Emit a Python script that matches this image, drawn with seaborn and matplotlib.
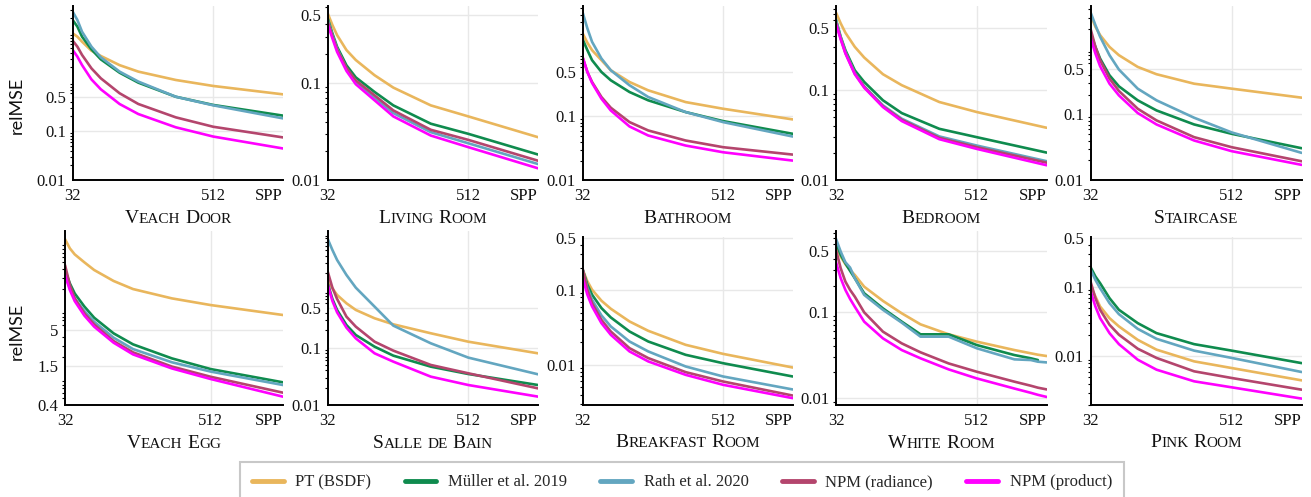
import numpy as np
import pandas as pd
import matplotlib
matplotlib.use("Agg")
import matplotlib.pyplot as plt
import seaborn as sns
from matplotlib.lines import Line2D
from matplotlib.offsetbox import TextArea, HPacker, AnchoredOffsetbox
from matplotlib.ticker import FixedLocator, FixedFormatter, LogLocator, NullFormatter

# ---------------- data ----------------
METHODS = ["PT (BSDF)", "Müller et al. 2019", "Rath et al. 2020", "NPM (radiance)", "NPM (product)"]
COLORS = ["#E9B65C", "#0F8B4E", "#63A6C0", "#B4456D", "#FF00FF"]

SPP = [32, 48, 64, 96, 128, 192, 256, 384, 512, 750]
WHITE_SPP = [32, 48, 64, 80, 96, 128, 192, 256, 320, 416, 512, 640, 696, 720, 750]

veach_door = {
    "PT (BSDF)":          [9.85, 8.41, 6.65, 4.36, 3.40, 2.21, 1.63, 1.10, 0.83, 0.56],
    "Müller et al. 2019": [18.4, 13.5, 8.41, 4.64, 2.90, 1.55, 0.97, 0.50, 0.34, 0.206],
    "Rath et al. 2020":   [27.2, 18.4, 10.6, 5.26, 3.19, 1.63, 1.02, 0.50, 0.334, 0.181],
    "NPM (radiance)":     [6.98, 5.26, 3.56, 1.90, 1.19, 0.59, 0.356, 0.190, 0.122, 0.074],
    "NPM (product)":      [4.50, 3.29, 2.21, 1.13, 0.71, 0.356, 0.222, 0.119, 0.077, 0.044],
}
living_room = {
    "PT (BSDF)":          [0.521, 0.395, 0.311, 0.218, 0.172, 0.120, 0.0895, 0.0587, 0.0452, 0.0276],
    "Müller et al. 2019": [0.463, 0.324, 0.236, 0.152, 0.114, 0.0807, 0.0587, 0.0380, 0.0299, 0.0183],
    "Rath et al. 2020":   [0.445, 0.311, 0.226, 0.141, 0.102, 0.0705, 0.0489, 0.0311, 0.0239, 0.0146],
    "NPM (radiance)":     [0.428, 0.304, 0.221, 0.143, 0.106, 0.0745, 0.0521, 0.0329, 0.0259, 0.0158],
    "NPM (product)":      [0.404, 0.288, 0.209, 0.133, 0.0969, 0.0662, 0.0452, 0.0287, 0.0218, 0.0132],
}
bathroom = {
    "PT (BSDF)":          [2.02, 1.44, 1.10, 0.766, 0.532, 0.348, 0.257, 0.168, 0.132, 0.0897],
    "Müller et al. 2019": [1.62, 1.10, 0.766, 0.50, 0.370, 0.242, 0.179, 0.117, 0.0844, 0.0533],
    "Rath et al. 2020":   [4.28, 2.42, 1.49, 0.814, 0.532, 0.309, 0.202, 0.117, 0.0814, 0.0483],
    "NPM (radiance)":     [0.844, 0.50, 0.348, 0.202, 0.137, 0.0814, 0.0601, 0.0418, 0.0328, 0.0251],
    "NPM (product)":      [0.844, 0.50, 0.336, 0.190, 0.124, 0.0695, 0.0501, 0.0348, 0.0273, 0.0202],
}
bedroom = {
    "PT (BSDF)":          [0.734, 0.557, 0.438, 0.305, 0.232, 0.151, 0.114, 0.074, 0.0572, 0.0382],
    "Müller et al. 2019": [0.608, 0.395, 0.280, 0.167, 0.124, 0.0773, 0.0557, 0.0372, 0.0300, 0.0202],
    "Rath et al. 2020":   [0.608, 0.389, 0.269, 0.156, 0.111, 0.068, 0.0482, 0.0306, 0.0242, 0.0162],
    "NPM (radiance)":     [0.567, 0.379, 0.262, 0.154, 0.109, 0.0662, 0.0469, 0.0295, 0.0232, 0.0156],
    "NPM (product)":      [0.548, 0.369, 0.257, 0.151, 0.107, 0.065, 0.0454, 0.0285, 0.0222, 0.0146],
}
staircase = {
    "PT (BSDF)":          [3.27, 2.17, 1.62, 1.07, 0.80, 0.53, 0.41, 0.294, 0.247, 0.180],
    "Müller et al. 2019": [1.72, 1.07, 0.711, 0.395, 0.268, 0.164, 0.115, 0.0703, 0.0506, 0.0305],
    "Rath et al. 2020":   [3.56, 2.30, 1.53, 0.80, 0.483, 0.247, 0.164, 0.089, 0.0531, 0.0259],
    "NPM (radiance)":     [1.98, 1.07, 0.671, 0.352, 0.228, 0.122, 0.081, 0.045, 0.0316, 0.0193],
    "NPM (product)":      [1.44, 0.849, 0.543, 0.294, 0.195, 0.105, 0.0703, 0.040, 0.0275, 0.0170],
}
veach_egg = {
    "PT (BSDF)":          [110, 80.5, 65.7, 50.1, 38.7, 26.7, 20.3, 14.8, 11.8, 8.43],
    "Müller et al. 2019": [38.7, 24.6, 17.5, 11.2, 7.69, 4.53, 3.12, 1.94, 1.35, 0.862],
    "Rath et al. 2020":   [34.5, 20.8, 14.8, 9.64, 6.72, 3.91, 2.66, 1.70, 1.24, 0.787],
    "NPM (radiance)":     [45.8, 23.3, 14.8, 8.92, 6.14, 3.49, 2.38, 1.47, 1.04, 0.607],
    "NPM (product)":      [32.7, 19.6, 13.5, 8.24, 5.68, 3.30, 2.22, 1.38, 0.964, 0.53],
}
salle_de_bain = {
    "PT (BSDF)":          [1.51, 1.08, 0.83, 0.593, 0.454, 0.325, 0.255, 0.178, 0.127, 0.0796],
    "Müller et al. 2019": [1.32, 0.706, 0.454, 0.248, 0.166, 0.104, 0.0725, 0.0466, 0.0347, 0.0223],
    "Rath et al. 2020":   [7.85, 5.05, 3.38, 1.85, 1.11, 0.519, 0.242, 0.119, 0.067, 0.0343],
    "NPM (radiance)":     [2.12, 1.11, 0.706, 0.347, 0.232, 0.127, 0.0887, 0.0499, 0.0357, 0.0195],
    "NPM (product)":      [1.27, 0.652, 0.413, 0.223, 0.145, 0.0796, 0.057, 0.0312, 0.0223, 0.014],
}
breakfast_room = {
    "PT (BSDF)":          [0.187, 0.131, 0.101, 0.072, 0.0562, 0.0380, 0.0285, 0.0185, 0.0140, 0.0092],
    "Müller et al. 2019": [0.187, 0.118, 0.0866, 0.0574, 0.043, 0.0279, 0.0205, 0.0136, 0.0105, 0.00698],
    "Rath et al. 2020":   [0.187, 0.106, 0.0743, 0.0458, 0.0326, 0.0205, 0.0151, 0.0095, 0.00698, 0.00468],
    "NPM (radiance)":     [0.191, 0.101, 0.067, 0.040, 0.0279, 0.0167, 0.0123, 0.00798, 0.00598, 0.00388],
    "NPM (product)":      [0.145, 0.0866, 0.0604, 0.0361, 0.0252, 0.0151, 0.0111, 0.00734, 0.0054, 0.00358],
}
white_room = {
    "PT (BSDF)":          [0.578, 0.431, 0.352, 0.303, 0.265, 0.194, 0.133, 0.0957, 0.0714, 0.0548, 0.0451, 0.0361, 0.0331, 0.0319, 0.0308],
    "Müller et al. 2019": [0.614, 0.451, 0.361, 0.295, 0.243, 0.163, 0.109, 0.0767, 0.0548, 0.0548, 0.0412, 0.0316, 0.0290, 0.0277, np.nan],
    "Rath et al. 2020":   [0.689, 0.492, 0.371, 0.322, 0.243, 0.156, 0.105, 0.0747, 0.0515, 0.0515, 0.0378, 0.0282, 0.0277, 0.0265, 0.0260],
    "NPM (radiance)":     [0.515, 0.316, 0.222, 0.178, 0.149, 0.0982, 0.0588, 0.0431, 0.0340, 0.0253, 0.0203, 0.0156, 0.0140, 0.0133, 0.0127],
    "NPM (product)":      [0.371, 0.243, 0.178, 0.140, 0.114, 0.0767, 0.0492, 0.0361, 0.0290, 0.0216, 0.0170, 0.0130, 0.0116, 0.0110, 0.0104],
}
pink_room = {
    "PT (BSDF)":          [0.101, 0.0727, 0.0522, 0.0355, 0.0270, 0.0173, 0.0125, 0.00848, 0.0068, 0.00452],
    "Müller et al. 2019": [0.190, 0.141, 0.113, 0.0688, 0.0468, 0.0301, 0.0216, 0.0150, 0.0121, 0.0080],
    "Rath et al. 2020":   [0.175, 0.126, 0.0957, 0.0583, 0.0405, 0.0249, 0.0179, 0.0121, 0.0095, 0.00596],
    "NPM (radiance)":     [0.117, 0.0688, 0.0468, 0.0285, 0.0205, 0.0129, 0.0095, 0.0061, 0.00489, 0.00332],
    "NPM (product)":      [0.0857, 0.0522, 0.0355, 0.0216, 0.0150, 0.00896, 0.00644, 0.00438, 0.00359, 0.00247],
}

SCENES = ["Veach Door", "Living Room", "Bathroom", "Bedroom", "Staircase",
          "Veach Egg", "Salle de Bain", "Breakfast Room", "White Room", "Pink Room"]
SCENE_DATA = [veach_door, living_room, bathroom, bedroom, staircase,
              veach_egg, salle_de_bain, breakfast_room, white_room, pink_room]
SCENE_SPP = [SPP] * 8 + [WHITE_SPP, SPP]

YTICKS_STD = [0.01, 0.1, 0.5]
YLABELS_STD = ["0.01", "0.1", "0.5"]
YTICKS_EGG = [0.4, 1.5, 5]
YLABELS_EGG = ["0.4", "1.5", "5"]
YLIMS = [(0.01, 35.6), (0.01, 0.62), (0.01, 5.45), (0.01, 0.87), (0.01, 4.5),
         (0.4, 145), (0.01, 10.8), (0.0029, 0.52), (0.0084, 0.85), (0.002, 0.53)]
XTICKS = [32, 512, 750]
XLABELS = ["32", "512", "SPP"]

# ---------------- styling ----------------
sns.set_theme(style="white")
plt.rcParams["font.family"] = ["Liberation Serif", "DejaVu Serif"]
plt.rcParams["axes.unicode_minus"] = False

W, H = 1311, 497
fig = plt.figure(figsize=(W / 100, H / 100), dpi=100)

LEFTS = [72.7, 327.7, 582.7, 836, 1090.7, 65, 327.7, 582.7, 836, 1090.7]
RIGHTS = [283, 538, 792.7, 1046.7, 1301.7] * 2
TOPS = [6, 6, 6, 6, 6, 231, 231, 236.5, 231, 236.5]
BOTTOMS = [180] * 5 + [405] * 5

palette = dict(zip(METHODS, COLORS))


def small_caps_title(ax, text, y):
    words = []
    for word in text.split(" "):
        pieces = []
        cur, cur_big = "", None
        for ch in word:
            big = ch.isupper()
            if cur and big != cur_big:
                pieces.append((cur, cur_big))
                cur = ""
            cur += ch.upper()
            cur_big = big
        if cur:
            pieces.append((cur, cur_big))
        areas = [TextArea(s, textprops=dict(fontsize=14 if b else 11, color="#111111"))
                 for s, b in pieces]
        words.append(HPacker(children=areas, align="baseline", pad=0, sep=0))
    box = HPacker(children=words, align="baseline", pad=0, sep=3.5)
    anch = AnchoredOffsetbox(loc="center", child=box, pad=0, borderpad=0, frameon=False,
                             bbox_to_anchor=(0.5, y), bbox_transform=ax.transAxes)
    ax.add_artist(anch)


for i, (scene, data, spp) in enumerate(zip(SCENES, SCENE_DATA, SCENE_SPP)):
    l, r, t, b = LEFTS[i], RIGHTS[i], TOPS[i], BOTTOMS[i]
    ax = fig.add_axes([l / W, 1 - b / H, (r - l) / W, (b - t) / H])
    rows = []
    for m in METHODS:
        for x, v in zip(spp, data[m]):
            rows.append((m, x, v))
    df = pd.DataFrame(rows, columns=["method", "spp", "relMSE"]).dropna()
    sns.lineplot(data=df, x="spp", y="relMSE", hue="method", hue_order=METHODS,
                 palette=palette, ax=ax, legend=False, linewidth=1.9,
                 estimator=None, sort=True)
    for ln in ax.get_lines():
        ln.set_solid_joinstyle("round")
    ax.set_yscale("log")
    ax.set_xlim(32, 750)
    ax.set_ylim(*YLIMS[i])
    if scene == "Veach Egg":
        yt, yl = YTICKS_EGG, YLABELS_EGG
    else:
        yt, yl = YTICKS_STD, YLABELS_STD
    ax.yaxis.set_major_locator(FixedLocator(yt))
    ax.yaxis.set_major_formatter(FixedFormatter(yl))
    ax.yaxis.set_minor_locator(LogLocator(base=10, subs=np.arange(2, 10) * 1.0, numticks=100))
    ax.yaxis.set_minor_formatter(NullFormatter())
    ax.set_xticks(XTICKS)
    ax.set_xticklabels(XLABELS)
    ax.get_xticklabels()[-1].set_horizontalalignment("right")
    ax.set_xlabel("")
    ax.set_ylabel("")
    ax.yaxis.grid(True, which="major", color="#e8e8e8", linewidth=1.0, zorder=0)
    ax.xaxis.grid(False)
    ax.axvline(512, color="#e8e8e8", linewidth=1.0, zorder=0)
    for s in ["top", "right"]:
        ax.spines[s].set_visible(False)
    for s in ["left", "bottom"]:
        ax.spines[s].set_color("black")
        ax.spines[s].set_linewidth(1.4)
    ax.tick_params(axis="both", which="major", direction="out", length=3.5, width=1.0,
                   color="black", labelsize=12, pad=1.5, labelcolor="#111111")
    ax.tick_params(axis="y", which="minor", direction="out", length=2.2, width=0.8,
                   color="black", left=True)
    ax.tick_params(axis="x", which="major", length=3.0, pad=2.5)
    ax.set_axisbelow(True)
    small_caps_title(ax, scene, -0.22)

fig.text(17 / W, 1 - 105 / H, "relMSE", rotation=90, ha="center", va="center",
         fontsize=13, family=["Lato", "DejaVu Sans"], color="#111111")
fig.text(17 / W, 1 - 331 / H, "relMSE", rotation=90, ha="center", va="center",
         fontsize=13, family=["Lato", "DejaVu Sans"], color="#111111")

handles = [Line2D([0], [0], color=c, lw=3.5) for c in COLORS]
leg = fig.legend(handles, METHODS, loc="upper center", bbox_to_anchor=(682 / W, 1 - 462 / H),
                 ncol=5, frameon=True, fancybox=False, fontsize=12, handlelength=1.9,
                 handletextpad=0.7, columnspacing=2.0, borderpad=0.75, borderaxespad=0,
                 edgecolor="#bbbbbb")
leg.get_frame().set_linewidth(1.5)

fig.savefig("out.png", dpi=100)
